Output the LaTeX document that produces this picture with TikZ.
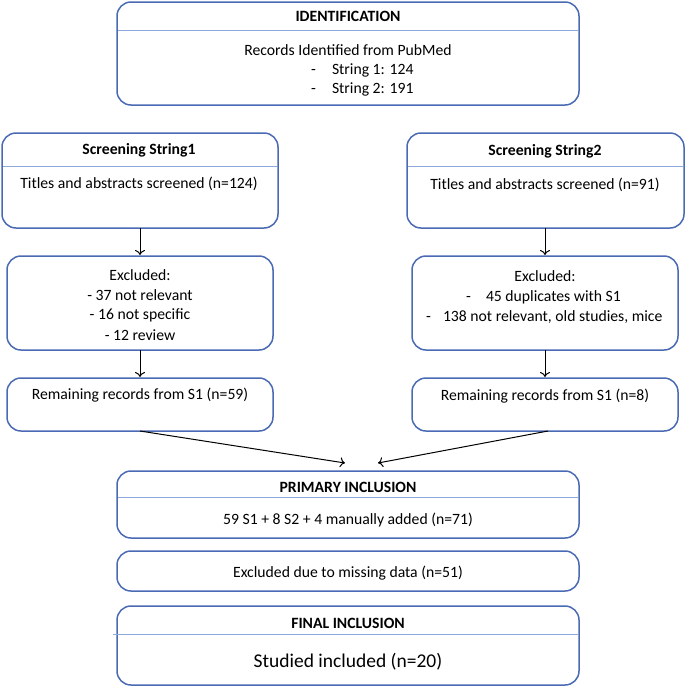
\documentclass[tikz,border=0pt]{standalone}
\usepackage{fontspec}
\setmainfont{Carlito}
\usetikzlibrary{arrows.meta}
\definecolor{boxblue}{HTML}{4A6AB4}
\definecolor{divblue}{HTML}{8EA9DB}
\tikzset{
  frame/.style={draw=boxblue, line width=1.5pt, rounded corners=14pt},
  divider/.style={draw=divblue, line width=1pt},
  txt/.style={inner sep=0pt, font=\fontsize{15.7}{18}\selectfont},
  hdr/.style={inner sep=0pt, font=\fontsize{15.7}{18}\selectfont\bfseries},
  big/.style={inner sep=0pt, font=\fontsize{19.5}{22}\selectfont},
  conn/.style={draw=black, line width=1pt, -{To[length=5pt,width=10pt]}}
}
\begin{document}
\begin{tikzpicture}[x=1pt,y=-1pt]
\useasboundingbox (0,0) rectangle (686,686);
% Identification
\draw[frame] (117,2) rectangle (579,105);
\draw[divider] (118,30) -- (578,30);
\node[hdr] (idh) at (348,16) {IDENTIFICATION};
\node[txt] (idt) at (348,50) {Records Identified from PubMed};
\node[txt, anchor=west] (ids1) at (311,70) {-\hspace{16pt}String 1: 124};
\node[txt, anchor=west] (ids2) at (311,89) {-\hspace{16pt}String 2: 191};
% Screening String1
\draw[frame] (2,133) rectangle (278,228);
\draw[divider] (3,166) -- (277,166);
\node[hdr] (s1h) at (139,150) {Screening String1};
\node[txt] (s1t) at (139,184) {Titles and abstracts screened (n=124)};
\coordinate (s1b) at (140,228);
% Screening String2
\draw[frame] (407,133) rectangle (684,228);
\draw[divider] (408,166) -- (683,166);
\node[hdr] (s2h) at (545,151) {Screening String2};
\node[txt] (s2t) at (545,185) {Titles and abstracts screened (n=91)};
\coordinate (s2b) at (545,228);
% Excluded left
\draw[frame] (7,256) rectangle (273,350);
\coordinate (e1t) at (140,255);
\coordinate (e1b) at (140,350);
\node[txt] (e1a) at (140,275) {Excluded:};
\node[txt] (e1b1) at (140,295) {- 37 not relevant};
\node[txt] (e1c) at (140,315) {- 16 not specific};
\node[txt] (e1d) at (140,335) {- 12 review};
% Excluded right
\draw[frame] (412,256) rectangle (678,350);
\coordinate (e2t) at (545,255);
\coordinate (e2b) at (545,350);
\node[txt] (e2a) at (545,276) {Excluded:};
\node[txt, anchor=west] (e2l1) at (466,297) {-\hspace{15pt}45 duplicates with S1};
\node[txt, anchor=west] (e2l2) at (426,317) {-\hspace{12pt}138 not relevant, old studies, mice};
% Remaining
\draw[frame] (7,378) rectangle (273,431);
\node[txt] (r1t) at (140,395) {Remaining records from S1 (n=59)};
\coordinate (r1top) at (140,377);
\coordinate (r1b) at (140,431);
\draw[frame] (412,378) rectangle (678,431);
\node[txt] (r2t) at (545,396) {Remaining records from S1 (n=8)};
\coordinate (r2top) at (545,377);
\coordinate (r2b) at (548,431);
% Primary inclusion
\draw[frame] (117,471) rectangle (579,538);
\draw[divider] (118,497) -- (578,497);
\node[hdr] (ph) at (348,487) {PRIMARY INCLUSION};
\node[txt] (pt) at (348,520) {59 S1 + 8 S2 + 4 manually added (n=71)};
\coordinate (pin1) at (345,463);
\coordinate (pin2) at (378,463);
% Missing
\draw[frame] (117,551) rectangle (579,591);
\node[txt] (mt) at (348,573) {Excluded due to missing data (n=51)};
% Final
\draw[frame] (117,606) rectangle (579,685);
\draw[divider] (113,634) -- (578,634);
\node[hdr] (fh) at (348,623) {FINAL INCLUSION};
\node[big] (ft) at (348,662) {Studied included (n=20)};
% connectors
\draw[conn] (s1b) -- (e1t);
\draw[conn] (s2b) -- (e2t);
\draw[conn] (e1b) -- (r1top);
\draw[conn] (e2b) -- (r2top);
\draw[conn] (r1b) -- (pin1);
\draw[conn] (r2b) -- (pin2);
\end{tikzpicture}
\end{document}
